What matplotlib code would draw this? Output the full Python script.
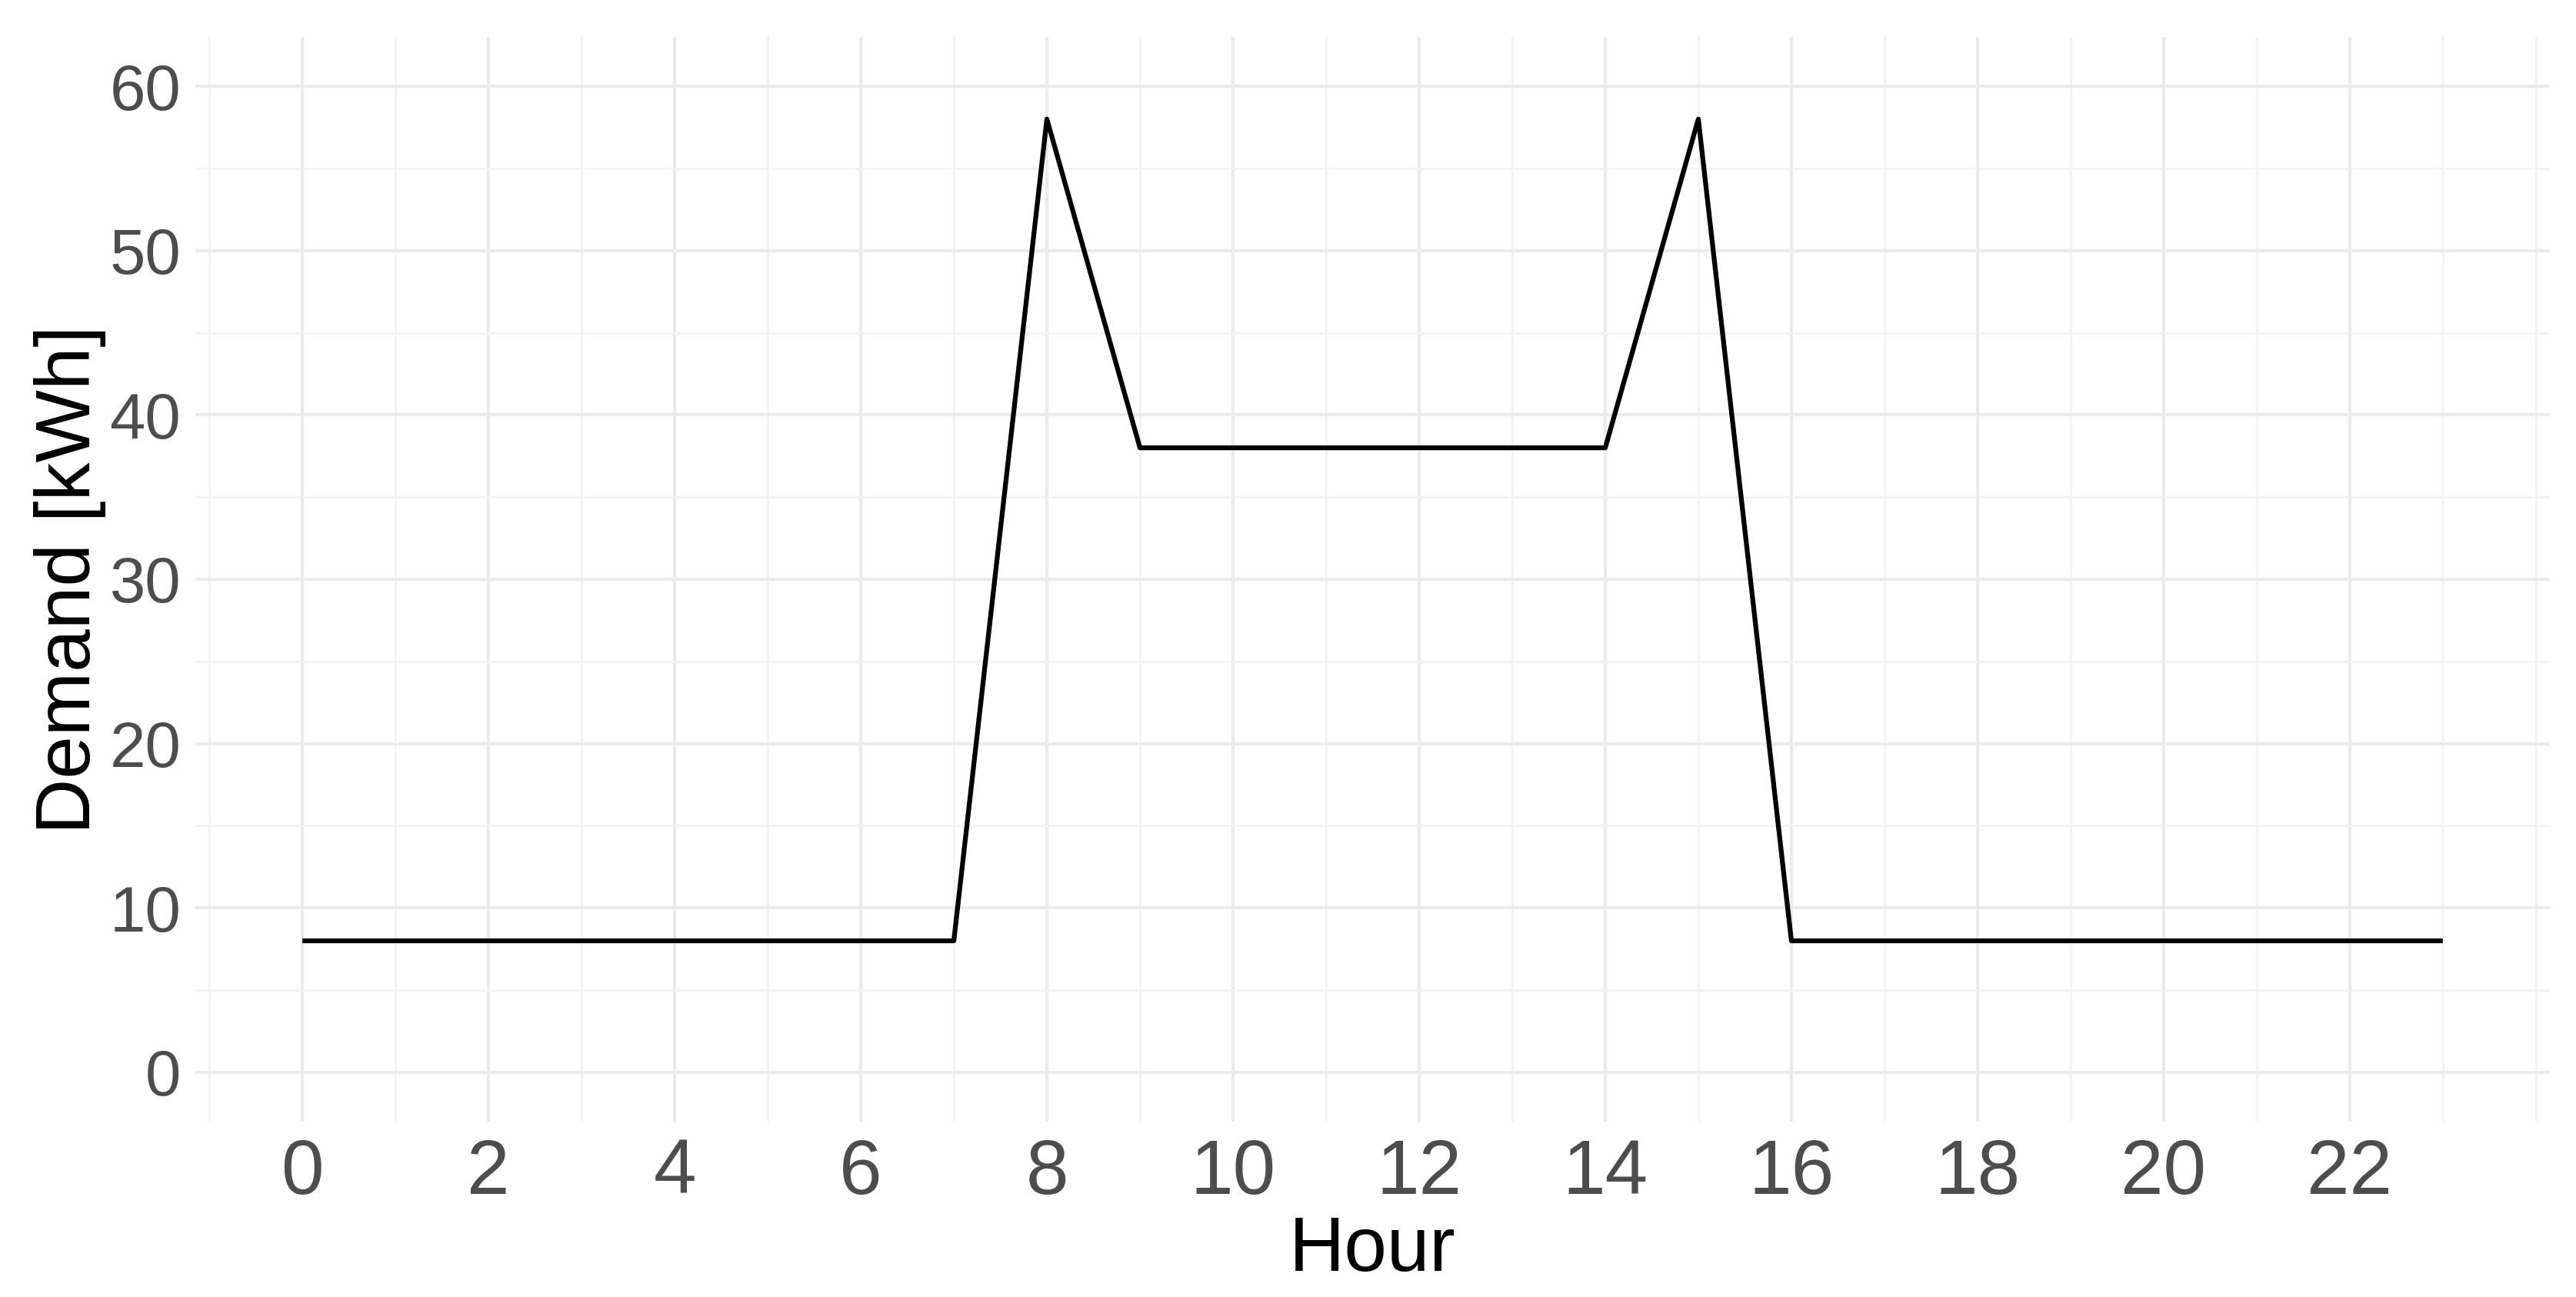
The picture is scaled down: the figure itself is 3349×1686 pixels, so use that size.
import matplotlib
matplotlib.use("Agg")
import matplotlib.pyplot as plt
from matplotlib.ticker import FixedLocator

hours = list(range(24))
demand = [8, 8, 8, 8, 8, 8, 8, 8, 58, 38, 38, 38, 38, 38, 38, 58, 8, 8, 8, 8, 8, 8, 8, 8]
x_ticks = list(range(0, 24, 2))
y_ticks = [0, 10, 20, 30, 40, 50, 60]
x_label = "Hour"
y_label = "Demand [kWh]"

plt.rcParams['font.family'] = ['Liberation Sans', 'DejaVu Sans']

W, H = 3349, 1686
dpi = 300
fig = plt.figure(figsize=(W / dpi, H / dpi), dpi=dpi)
left, right, top, bottom = 254, 3315, 48, 1458
ax = fig.add_axes([left / W, 1 - bottom / H, (right - left) / W, (bottom - top) / H])

ax.plot(hours, demand, color="black", lw=1.5, solid_joinstyle="round",
        solid_capstyle="butt", zorder=3)

ax.set_xlim(-1.15, 24.15)
ax.set_ylim(-3, 63)
ax.xaxis.set_major_locator(FixedLocator(x_ticks))
ax.xaxis.set_minor_locator(FixedLocator([v for v in range(-1, 25) if v not in x_ticks]))
ax.yaxis.set_major_locator(FixedLocator(y_ticks))
ax.yaxis.set_minor_locator(FixedLocator([5, 15, 25, 35, 45, 55]))

ax.grid(which="major", color="#EBEBEB", lw=1.0)
ax.grid(which="minor", color="#F3F3F3", lw=0.7)
ax.set_axisbelow(True)
for s in ax.spines.values():
    s.set_visible(False)

ax.tick_params(which="both", length=0)
ax.tick_params(axis="x", which="major", labelsize=24, labelcolor="#4D4D4D", pad=5)
ax.tick_params(axis="y", which="major", labelsize=20, labelcolor="#4D4D4D", pad=4.5)

ax.set_xlabel(x_label, fontsize=24, color="black", labelpad=1.5)
ax.set_ylabel(y_label, fontsize=24, color="black", labelpad=1)

fig.savefig("out.png", dpi=dpi, facecolor="white")
